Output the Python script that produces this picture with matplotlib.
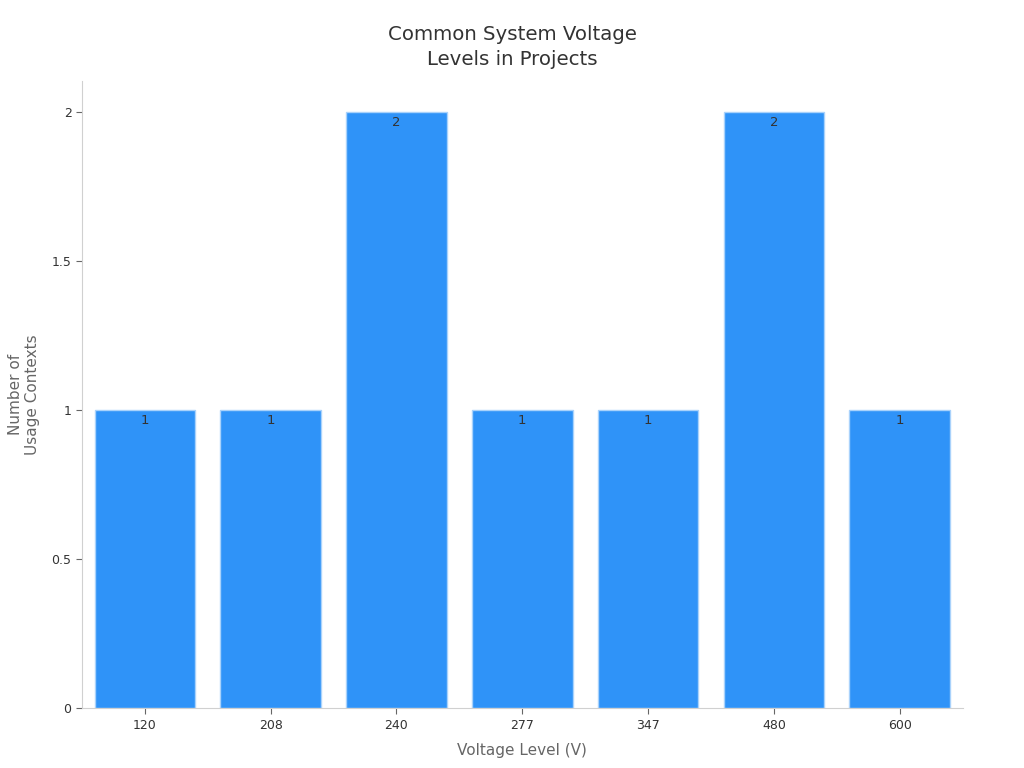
import matplotlib.pyplot as plt

voltages = ['120', '208', '240', '277', '347', '480', '600']
usage_counts = [1, 1, 2, 1, 1, 2, 1]

plt.rcParams['font.family'] = ['DejaVu Sans']

fig, ax = plt.subplots(figsize=(10.24, 7.68), dpi=100)
fig.subplots_adjust(left=0.08, right=0.94, top=0.895, bottom=0.078)

x = range(len(voltages))
bars = ax.bar(x, usage_counts, width=0.8, color='#2f93f8', edgecolor='#a9d2fb', linewidth=1)

for xi, v in zip(x, usage_counts):
    ax.text(xi, v - 0.012, str(v), ha='center', va='top', fontsize=9.5, color='#333333')

ax.set_xticks(list(x))
ax.set_xticklabels(voltages)
ax.set_xlim(-0.5, len(voltages) - 0.5)
ax.set_ylim(0, 2.105)
ax.set_yticks([0, 0.5, 1, 1.5, 2])
ax.set_yticklabels(['0', '0.5', '1', '1.5', '2'])

fig.suptitle('Common System Voltage\nLevels in Projects', x=0.5, y=0.968, fontsize=14.2,
             color='#333333', linespacing=1.45)
ax.set_xlabel('Voltage Level (V)', fontsize=11, color='#666666', labelpad=8)
ax.set_ylabel('Number of\nUsage Contexts', fontsize=11, color='#666666', labelpad=8)

for s in ['top', 'right']:
    ax.spines[s].set_visible(False)
for s in ['left', 'bottom']:
    ax.spines[s].set_color('#d0d0d0')
ax.tick_params(axis='both', colors='#333333', labelsize=9, length=4)
ax.tick_params(axis='both', color='#666666')

fig.savefig('out.png')
